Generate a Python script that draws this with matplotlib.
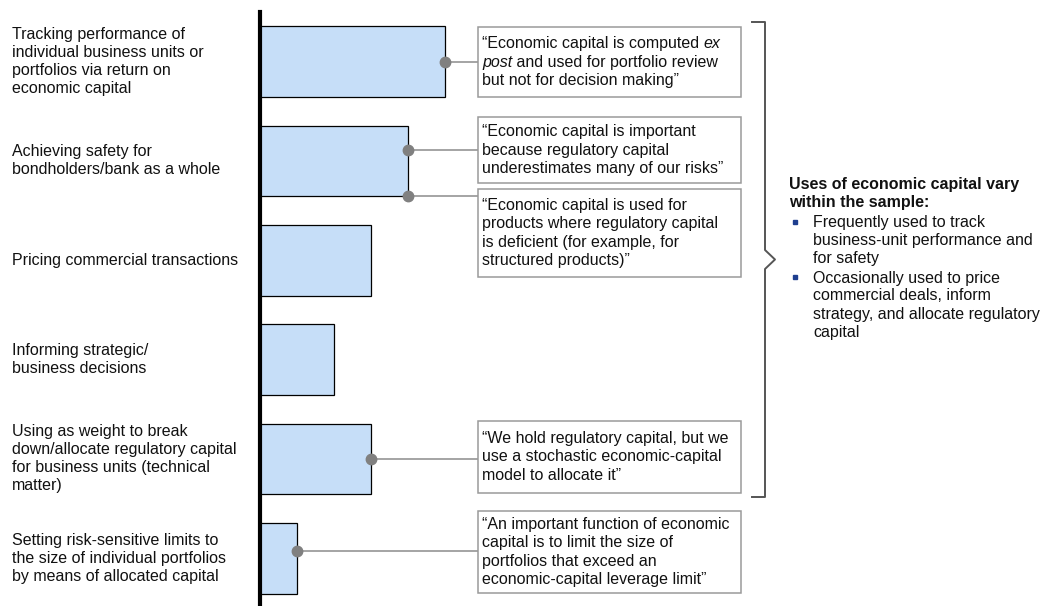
import matplotlib.pyplot as plt
from matplotlib import transforms
from matplotlib.patches import Rectangle

plt.rcParams['font.family'] = ['Liberation Sans', 'DejaVu Sans']

# uses of economic capital, number of banks (bar length)
categories = [
    "Tracking performance of\nindividual business units or\nportfolios via return on\neconomic capital",
    "Achieving safety for\nbondholders/bank as a whole",
    "Pricing commercial transactions",
    "Informing strategic/\nbusiness decisions",
    "Using as weight to break\ndown/allocate regulatory capital\nfor business units (technical\nmatter)",
    "Setting risk-sensitive limits to\nthe size of individual portfolios\nby means of allocated capital",
]
counts = [5, 4, 3, 2, 3, 1]

# each quote: lines of (text, italic) segments
quotes = [
    [[("\u201cEconomic capital is computed ", False), ("ex", True)],
     [("post", True), (" and used for portfolio review", False)],
     [("but not for decision making\u201d", False)]],
    [[("\u201cEconomic capital is important", False)],
     [("because regulatory capital", False)],
     [("underestimates many of our risks\u201d", False)]],
    [[("\u201cEconomic capital is used for", False)],
     [("products where regulatory capital", False)],
     [("is deficient (for example, for", False)],
     [("structured products)\u201d", False)]],
    [[("\u201cWe hold regulatory capital, but we", False)],
     [("use a stochastic economic-capital", False)],
     [("model to allocate it\u201d", False)]],
    [[("\u201cAn important function of economic", False)],
     [("capital is to limit the size of", False)],
     [("portfolios that exceed an", False)],
     [("economic-capital leverage limit\u201d", False)]],
]
quote_bar = [0, 1, 1, 4, 5]

summary_title = "Uses of economic capital vary\nwithin the sample:"
summary_points = [
    "Frequently used to track\nbusiness-unit performance and\nfor safety",
    "Occasionally used to price\ncommercial deals, inform\nstrategy, and allocate regulatory\ncapital",
]

W, H = 1046, 606
FS = 11.5
LS = 1.25
PITCH = 18.4
TXT = '#111111'
fig = plt.figure(figsize=(W / 100, H / 100), dpi=100)

# bar panel
ax = fig.add_axes([260 / W, 0, 500 / W, 594 / H])
ax.barh(range(len(counts)), counts, height=0.71, color='#C6DEF8',
        edgecolor='black', linewidth=0.9, zorder=2)
ax.set_xlim(0, 500 / 37)
ax.set_ylim(5.48, -0.5)
for s in ['top', 'right', 'bottom']:
    ax.spines[s].set_visible(False)
ax.spines['left'].set_linewidth(3)
ax.set_xticks([])
ax.set_yticks([])
ax.patch.set_alpha(0)

lab_tr = transforms.blended_transform_factory(fig.transFigure, ax.transData)
for i, lab in enumerate(categories):
    ax.text(12 / W, i, lab, transform=lab_tr, ha='left', va='center',
            fontsize=FS, linespacing=LS, color=TXT)

# overlay in pixel units for the call-out boxes
ov = fig.add_axes([0, 0, 1, 1])
ov.set_xlim(0, W)
ov.set_ylim(H, 0)
ov.axis('off')

box_left = 478
box_geom = [(27, 97, 741), (117, 183, 741), (189, 277, 741),
            (421, 493, 741), (511, 593, 741)]
anchor_off = [0.0, -0.11, 0.355, 0.0, -0.07]


def draw_lines(x, yc, lines):
    n = len(lines)
    for k, segs in enumerate(lines):
        y = yc + (k - (n - 1) / 2) * PITCH
        prev = None
        for txt, it in segs:
            style = 'italic' if it else 'normal'
            if prev is None:
                prev = ov.text(x, y, txt, ha='left', va='center',
                               fontsize=FS, style=style, color=TXT)
            else:
                prev = ov.annotate(txt, xy=(1, 0.5), xycoords=prev,
                                   ha='left', va='center', fontsize=FS,
                                   style=style, color=TXT)


x_box = ax.transData.inverted().transform((box_left, 0))[0]
for q, b, off, (top, bot, right) in zip(quotes, quote_bar, anchor_off, box_geom):
    ov.add_patch(Rectangle((box_left, top), right - box_left, bot - top,
                           facecolor='white', edgecolor='#9A9A9A', lw=1.1))
    draw_lines(box_left + 4, (top + bot) / 2, q)
    ax.plot([counts[b], x_box], [b + off, b + off], color='#8C8C8C',
            lw=1.1, clip_on=False, zorder=3)
    ax.plot(counts[b], b + off, 'o', color='#808080', ms=7.5,
            clip_on=False, zorder=4)

# brace
ov.plot([752, 765, 765, 775, 765, 765, 752],
        [22, 22, 250, 259.5, 269, 497, 497], color='#555555', lw=1.4)

ov.text(789, 193.5, summary_title, ha='left', va='center', fontsize=FS,
        fontweight='bold', linespacing=LS, color=TXT)
for y, pt in zip([240, 305], summary_points):
    n = pt.count('\n') + 1
    y0 = y - (n - 1) / 2 * PITCH
    ov.plot(795, y0, 's', color='#1F3F8F', ms=3.5)
    ov.text(813, y, pt, ha='left', va='center', fontsize=FS,
            linespacing=LS, color=TXT)

fig.savefig("out.png", dpi=100)
